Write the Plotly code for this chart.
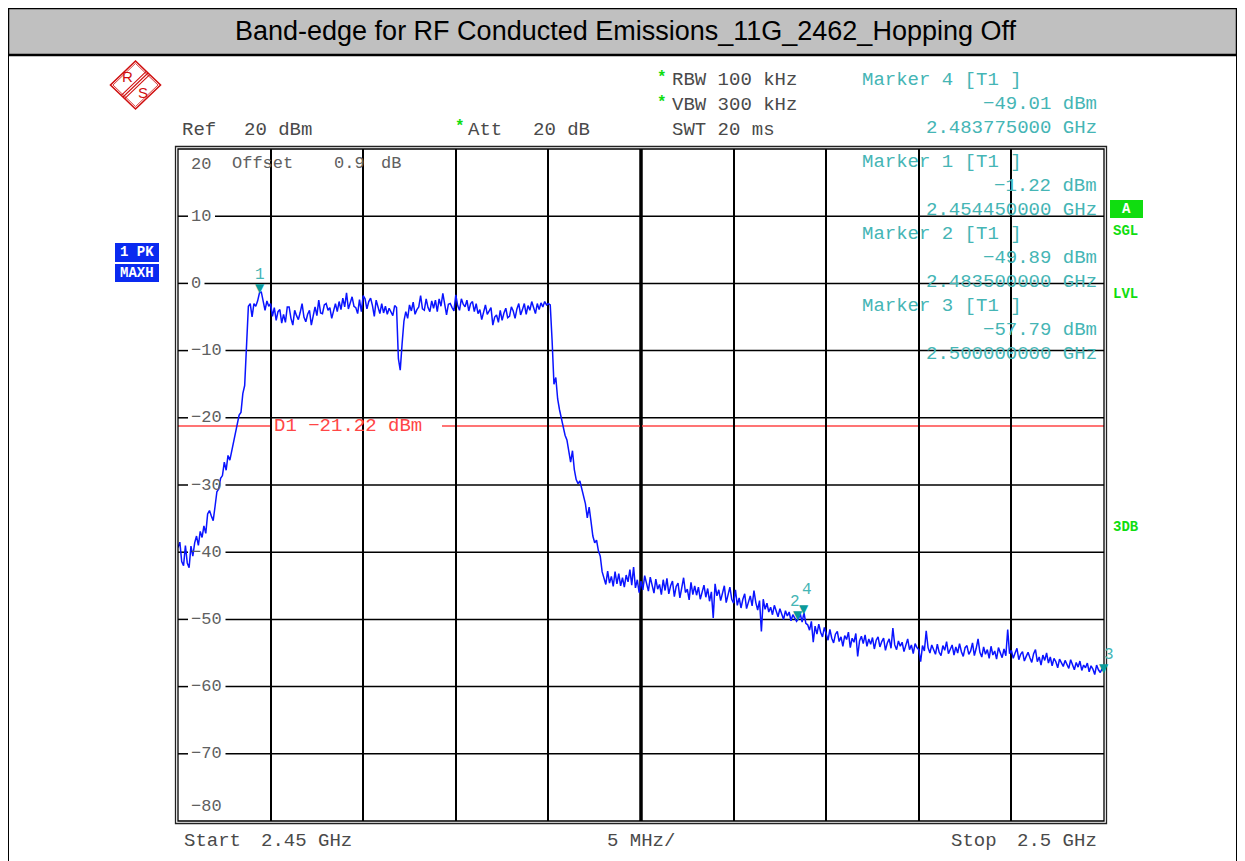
import numpy as np
import plotly.graph_objects as go

# The page adds an 8px body margin, so the figure is laid out in reference
# pixels shifted by that margin.
OFF = 8
W, H = 1245 - OFF, 861 - OFF

# ---------------- data ----------------
start_ghz = 2.45
stop_ghz = 2.50
n_points = 501

level_2450_2460 = [
    -39.3, -38.5, -41.4, -42.0, -39.0, -41.6, -42.3, -39.1, -40.6, -38.6,
    -37.6, -39.0, -36.9, -37.8, -36.1, -37.2, -34.3, -33.8, -34.6, -35.3,
    -33.2, -31.0, -30.6, -29.0, -28.6, -26.6, -27.8, -25.6, -26.3, -25.0,
    -23.6, -22.6, -21.2, -19.6, -19.2, -16.4, -15.2, -9.8, -3.4, -3.0,
    -5.0, -3.0, -3.4, -2.6, -1.4, -1.3, -2.8, -4.0, -2.6, -3.4,
    -3.0, -4.9, -3.6, -5.5, -4.2, -3.9, -5.9, -4.6, -5.8, -3.5,
    -3.5, -5.2, -6.2, -4.0, -4.8, -5.4, -4.3, -3.0, -5.0, -5.7,
    -4.6, -4.0, -6.2, -5.0, -3.5, -4.8, -2.5, -4.4, -4.5, -3.2,
    -3.0, -4.0, -3.6, -5.2, -3.9, -3.0, -4.2, -2.7, -3.9, -2.2,
    -3.5, -1.4, -3.8, -2.9, -2.0, -3.4, -3.6, -4.5, -2.4, -4.2,
]
level_2460_2470 = [
    -1.8, -2.3, -3.8, -2.7, -2.2, -3.3, -4.9, -2.5, -3.6, -4.5,
    -3.0, -4.4, -3.4, -4.6, -3.7, -4.3, -4.8, -3.3, -3.6, -11.2,
    -12.9, -9.0, -5.6, -4.2, -5.2, -3.2, -4.1, -2.8, -4.6, -3.9,
    -3.5, -1.8, -3.8, -4.0, -2.3, -3.6, -4.2, -2.6, -3.7, -2.5,
    -4.2, -2.3, -3.4, -1.5, -2.9, -4.7, -3.1, -3.0, -3.6, -4.1,
    -1.7, -3.3, -4.0, -2.3, -3.1, -3.5, -2.5, -4.1, -3.0, -2.7,
    -4.2, -3.0, -4.5, -3.9, -5.4, -4.1, -3.2, -4.6, -4.0, -3.6,
    -6.2, -5.0, -4.7, -5.8, -4.0, -5.5, -4.4, -3.7, -5.1, -4.9,
    -3.5, -4.1, -5.2, -3.8, -3.0, -4.7, -3.9, -3.0, -4.6, -3.3,
    -4.0, -2.7, -3.6, -4.5, -3.0, -3.9, -2.9, -3.5, -2.7, -3.2,
]
level_2470_2480 = [
    -3.0, -3.2, -8.5, -15.0, -14.0, -17.2, -18.8, -20.2, -21.6, -22.6,
    -23.3, -25.1, -26.6, -24.9, -27.7, -29.2, -29.8, -29.4, -30.6, -31.8,
    -32.8, -34.9, -33.3, -35.4, -37.6, -38.6, -38.2, -39.8, -40.6, -42.9,
    -44.1, -44.8, -42.8, -44.6, -43.6, -45.1, -42.9, -44.7, -43.2, -45.0,
    -43.8, -45.2, -43.4, -44.4, -42.6, -44.9, -42.2, -45.3, -44.1, -46.0,
    -44.3, -45.6, -43.5, -44.9, -45.8, -43.7, -45.2, -46.1, -44.0, -45.5,
    -44.8, -46.3, -44.1, -45.7, -43.9, -46.2, -45.0, -44.3, -46.6, -45.1,
    -44.6, -46.8, -45.3, -43.8, -46.0, -45.5, -47.1, -44.5, -46.3, -45.0,
    -46.4, -45.2, -47.0, -45.8, -44.9, -46.7, -45.4, -47.3, -45.9, -49.8,
    -44.7, -46.5, -45.6, -47.2, -46.0, -45.0, -47.5, -46.3, -45.2, -47.0,
]
level_2480_2490 = [
    -47.6, -45.6, -47.9, -46.8, -48.3, -47.0, -46.2, -48.4, -47.3, -46.5,
    -48.0, -45.7, -47.5, -48.6, -47.2, -51.8, -47.0, -48.5, -47.6, -48.9,
    -48.2, -49.3, -47.9, -48.8, -49.6, -48.4, -49.1, -50.0, -48.7, -49.5,
    -48.9, -50.2, -49.3, -49.8, -50.3, -49.9, -49.2, -50.4, -49.0, -50.6,
    -50.8, -51.6, -50.3, -53.4, -51.0, -52.2, -50.7, -51.9, -52.6, -51.2,
    -52.0, -53.1, -51.5, -52.8, -53.5, -52.2, -51.8, -53.3, -52.6, -54.0,
    -52.4, -53.0, -51.9, -54.2, -52.8, -53.4, -52.1, -55.5, -53.2, -52.5,
    -53.6, -52.3, -54.0, -52.9, -53.7, -52.7, -54.4, -53.1, -52.6, -54.1,
    -53.3, -52.8, -54.6, -53.5, -52.9, -54.3, -51.3, -53.8, -54.5, -53.2,
    -54.0, -53.4, -54.8, -53.7, -52.9, -54.5, -53.8, -55.1, -53.6, -54.2,
]
level_2490_2500 = [
    -54.5, -56.3, -53.9, -54.7, -51.7, -54.2, -55.0, -53.8, -54.6, -55.2,
    -53.7, -54.9, -55.4, -53.9, -54.6, -53.3, -55.1, -54.4, -53.8, -55.3,
    -54.1, -55.0, -53.6, -54.8, -55.5, -54.2, -53.9, -55.2, -54.7, -53.5,
    -55.4, -54.3, -52.9, -54.9, -55.6, -54.1, -55.2, -54.5, -55.8, -54.0,
    -55.3, -54.7, -55.9, -54.2, -55.0, -55.7, -54.4, -55.4, -51.5, -55.1,
    -54.6, -55.8, -55.0, -54.3, -56.0, -55.2, -54.8, -56.2, -55.5, -54.9,
    -55.7, -56.4, -55.1, -54.5, -56.3, -55.6, -56.8, -55.3, -56.1, -55.0,
    -56.5, -55.6, -56.9, -55.8, -56.3, -57.2, -55.9, -56.6, -57.0, -56.1,
    -56.7, -57.3, -56.0, -56.9, -57.5, -56.4, -57.1, -56.2, -57.6, -56.8,
    -57.2, -56.5, -57.8, -56.9, -57.4, -58.2, -56.8, -57.5, -57.9, -57.3,
    -57.8,
]

marker_ids = ["1", "2", "3", "4"]
marker_freq_ghz = [2.45445, 2.4835, 2.5, 2.483775]
marker_level_dbm = [-1.22, -49.89, -57.79, -49.01]
marker_label_dx = [0, -3, 5, 3]      # label nudges (px)
marker_label_dy = [0, 0, 0, 6]

display_line_dbm = -21.22
y_tick_values = [20, 10, 0, -10, -20, -30, -40, -50, -60, -70, -80]

# ---------------- helpers (reference pixel -> paper) ----------------
def px(x):
    return (x - OFF) / W

def py(y):
    return 1 - (y - OFF) / H

L, R, T, B = 178, 1104, 149, 821

level = level_2450_2460 + level_2460_2470 + level_2470_2480 + level_2480_2490 + level_2490_2500
freq = np.linspace(start_ghz, stop_ghz, n_points)

MONO = "Liberation Mono"
GRAY = "#4a4a4a"
TICKGRAY = "#606060"
TEAL = "#45b5b5"
TEAL_DARK = "#0a9a9a"
RED = "#ff4646"
GREEN = "#10dd10"
BLUE_BOX = "#0a2af0"
LOGO = "#d01010"
FS = 19

fig = go.Figure()
fig.add_trace(go.Scatter(x=freq, y=level, mode="lines",
                         line=dict(color="#0a14ff", width=1.5),
                         hoverinfo="skip", showlegend=False))

shapes = []
annotations = []

# title band and outer frame
shapes.append(dict(type="rect", xref="paper", yref="paper",
                   x0=px(8), x1=px(1237), y0=py(55), y1=py(8),
                   fillcolor="#c0c0c0", line=dict(color="black", width=2.5), layer="below"))
for xx in (8, 1237):
    shapes.append(dict(type="line", xref="paper", yref="paper",
                       x0=px(xx), x1=px(xx), y0=py(8), y1=py(861),
                       line=dict(color="black", width=2)))
annotations.append(dict(xref="paper", yref="paper", x=px(625), y=py(31),
                        text="Band-edge for RF Conducted Emissions_11G_2462_Hopping Off",
                        showarrow=False, xanchor="center", yanchor="middle",
                        font=dict(family="Liberation Sans", size=27, color="black")))

# plot frame (double line)
shapes.append(dict(type="rect", xref="paper", yref="paper",
                   x0=px(L), x1=px(R), y0=py(B), y1=py(T),
                   line=dict(color="black", width=1.3), layer="above"))
shapes.append(dict(type="rect", xref="paper", yref="paper",
                   x0=px(L - 2.5), x1=px(R + 2.5), y0=py(B + 2.5), y1=py(T - 2.5),
                   line=dict(color="#222222", width=1.3), layer="above"))
# centre vertical line (double)
shapes.append(dict(type="line", xref="x", yref="paper", x0=2.475, x1=2.475,
                   y0=py(B), y1=py(T), line=dict(color="black", width=3.5), layer="below"))
shapes.append(dict(type="line", xref="x", yref="paper", x0=2.475, x1=2.475,
                   y0=py(B), y1=py(T), line=dict(color="#9a9a9a", width=1), layer="below"))

# horizontal grid lines, broken where the level labels sit
for v in y_tick_values:
    lab = str(v).replace("-", "\u2212")
    if v in (20, -80):
        ys = -15 if v == 20 else 15
        annotations.append(dict(xref="paper", yref="y", x=px(189), y=v, yshift=ys,
                                text=lab, showarrow=False, xanchor="left", yanchor="middle",
                                font=dict(family=MONO, size=17, color=TICKGRAY)))
        continue
    gap_end = 190 + len(lab) * 10.5 + 4
    shapes.append(dict(type="line", xref="paper", yref="y", x0=px(L), x1=px(188),
                       y0=v, y1=v, line=dict(color="black", width=1.5), layer="below"))
    shapes.append(dict(type="line", xref="paper", yref="y", x0=px(gap_end), x1=px(R),
                       y0=v, y1=v, line=dict(color="black", width=1.5), layer="below"))
    annotations.append(dict(xref="paper", yref="y", x=px(189), y=v,
                            text=lab, showarrow=False, xanchor="left", yanchor="middle",
                            font=dict(family=MONO, size=17, color=TICKGRAY)))

# display line D1
shapes.append(dict(type="line", xref="paper", yref="y", x0=px(L), x1=px(272),
                   y0=display_line_dbm, y1=display_line_dbm, line=dict(color=RED, width=1.5), layer="below"))
shapes.append(dict(type="line", xref="paper", yref="y", x0=px(442), x1=px(R),
                   y0=display_line_dbm, y1=display_line_dbm, line=dict(color=RED, width=1.5), layer="below"))
annotations.append(dict(xref="paper", yref="y", x=px(272), y=display_line_dbm,
                        text="D1 \u221221.22 dBm", showarrow=False, xanchor="left", yanchor="middle",
                        font=dict(family=MONO, size=FS, color=RED)))

# markers
for mid, f, v, dx, dy in zip(marker_ids, marker_freq_ghz, marker_level_dbm, marker_label_dx, marker_label_dy):
    annotations.append(dict(xref="x", yref="y", x=f, y=v, text="\u25bc", showarrow=False,
                            xanchor="center", yanchor="bottom", yshift=-5,
                            font=dict(family="DejaVu Sans", size=12, color=TEAL_DARK)))
    annotations.append(dict(xref="x", yref="y", x=f, y=v, text=mid, showarrow=False,
                            xanchor="center", yanchor="bottom", yshift=6 + dy, xshift=dx,
                            font=dict(family=MONO, size=16, color=TEAL)))

# header texts
def txt(x, y, s, color=GRAY, anchor="left", size=FS, bold=False, family=MONO):
    if bold:
        s = "<b>" + s + "</b>"
    annotations.append(dict(xref="paper", yref="paper", x=px(x), y=py(y), text=s,
                            showarrow=False, xanchor=anchor, yanchor="middle",
                            font=dict(family=family, size=size, color=color)))

txt(180, 130, "Ref")
txt(242, 130, "20 dBm")
txt(453, 127, "*", color=GREEN, size=16, bold=True)
txt(466, 130, "Att")
txt(531, 130, "20 dB")
txt(655, 78, "*", color=GREEN, size=16, bold=True)
txt(670, 80, "RBW 100 kHz")
txt(655, 103, "*", color=GREEN, size=16, bold=True)
txt(670, 105, "VBW 300 kHz")
txt(670, 130, "SWT 20 ms")

# reference level line inside the grid: "20  Offset  0.9 dB" (20 is drawn with the level labels)
txt(230, 164, "Offset", color=TICKGRAY, size=17)
txt(332, 164, "0.9", color=TICKGRAY, size=17)
txt(379, 164, "dB", color=TICKGRAY, size=17)

marker_blocks = [
    (80, "Marker 4 [T1 ]", "\u221249.01 dBm", "2.483775000 GHz"),
    (162, "Marker 1 [T1 ]", "\u22121.22 dBm", "2.454450000 GHz"),
    (234, "Marker 2 [T1 ]", "\u221249.89 dBm", "2.483500000 GHz"),
    (306, "Marker 3 [T1 ]", "\u221257.79 dBm", "2.500000000 GHz"),
]
for y0, a, b, c in marker_blocks:
    txt(860, y0, a, color=TEAL)
    txt(1099, y0 + 24, b, color=TEAL, anchor="right")
    txt(1099, y0 + 48, c, color=TEAL, anchor="right")

# bottom texts
txt(182, 841, "Start")
txt(259, 841, "2.45 GHz")
txt(605, 841, "5 MHz/")
txt(949, 841, "Stop")
txt(1015, 841, "2.5 GHz")

# side boxes
for y0, y1, s in ((243, 262, "1 PK"), (264, 282, "MAXH")):
    shapes.append(dict(type="rect", xref="paper", yref="paper", x0=px(115), x1=px(159),
                       y0=py(y1), y1=py(y0), fillcolor=BLUE_BOX, line=dict(width=0)))
    txt(137, (y0 + y1) / 2, s, color="white", anchor="center", size=14, bold=True)
shapes.append(dict(type="rect", xref="paper", yref="paper", x0=px(1110), x1=px(1143),
                   y0=py(218), y1=py(200), fillcolor=GREEN, line=dict(width=0)))
txt(1126.5, 209, "A", color="white", anchor="center", size=14, bold=True)
txt(1111, 231, "SGL", color=GREEN, size=14, bold=True)
txt(1111, 294, "LVL", color=GREEN, size=14, bold=True)
txt(1111, 527, "3DB", color=GREEN, size=14, bold=True)

# R&S logo
cx, cy, hw, hh = 135.5, 85, 25, 24
def diamond(s):
    pts = [(cx, cy - hh * s), (cx + hw * s, cy), (cx, cy + hh * s), (cx - hw * s, cy)]
    return "M " + " L ".join(f"{px(a):.5f},{py(b):.5f}" for a, b in pts) + " Z"
shapes.append(dict(type="path", xref="paper", yref="paper", path=diamond(1.0),
                   line=dict(color=LOGO, width=1.6)))
shapes.append(dict(type="path", xref="paper", yref="paper", path=diamond(0.9),
                   line=dict(color=LOGO, width=0.8)))
for off in (-2.4, 0, 2.4):
    x0, y0 = cx + hw / 2 + off * 0.72, cy - hh / 2 + off * 0.69
    x1, y1 = cx - hw / 2 + off * 0.72, cy + hh / 2 + off * 0.69
    shapes.append(dict(type="line", xref="paper", yref="paper",
                       x0=px(x0), y0=py(y0), x1=px(x1), y1=py(y1),
                       line=dict(color=LOGO, width=1.1)))
txt(128, 77, "R", color=LOGO, anchor="center", size=15, family="Liberation Sans")
txt(143, 93, "S", color=LOGO, anchor="center", size=15, family="Liberation Sans")

fig.update_layout(
    width=W, height=H, autosize=False,
    margin=dict(l=0, r=0, t=0, b=0),
    paper_bgcolor="white", plot_bgcolor="white",
    showlegend=False,
    xaxis=dict(domain=[px(L), px(R)], range=[start_ghz, stop_ghz],
               tick0=start_ghz, dtick=0.005, showgrid=True, gridcolor="black", gridwidth=1.5,
               showticklabels=False, ticks="", zeroline=False, showline=False, fixedrange=True),
    yaxis=dict(domain=[py(B), py(T)], range=[-80, 20], showgrid=False,
               showticklabels=False, ticks="", zeroline=False, showline=False, fixedrange=True),
    shapes=shapes,
    annotations=annotations,
)

fig.write_html("out.html")
